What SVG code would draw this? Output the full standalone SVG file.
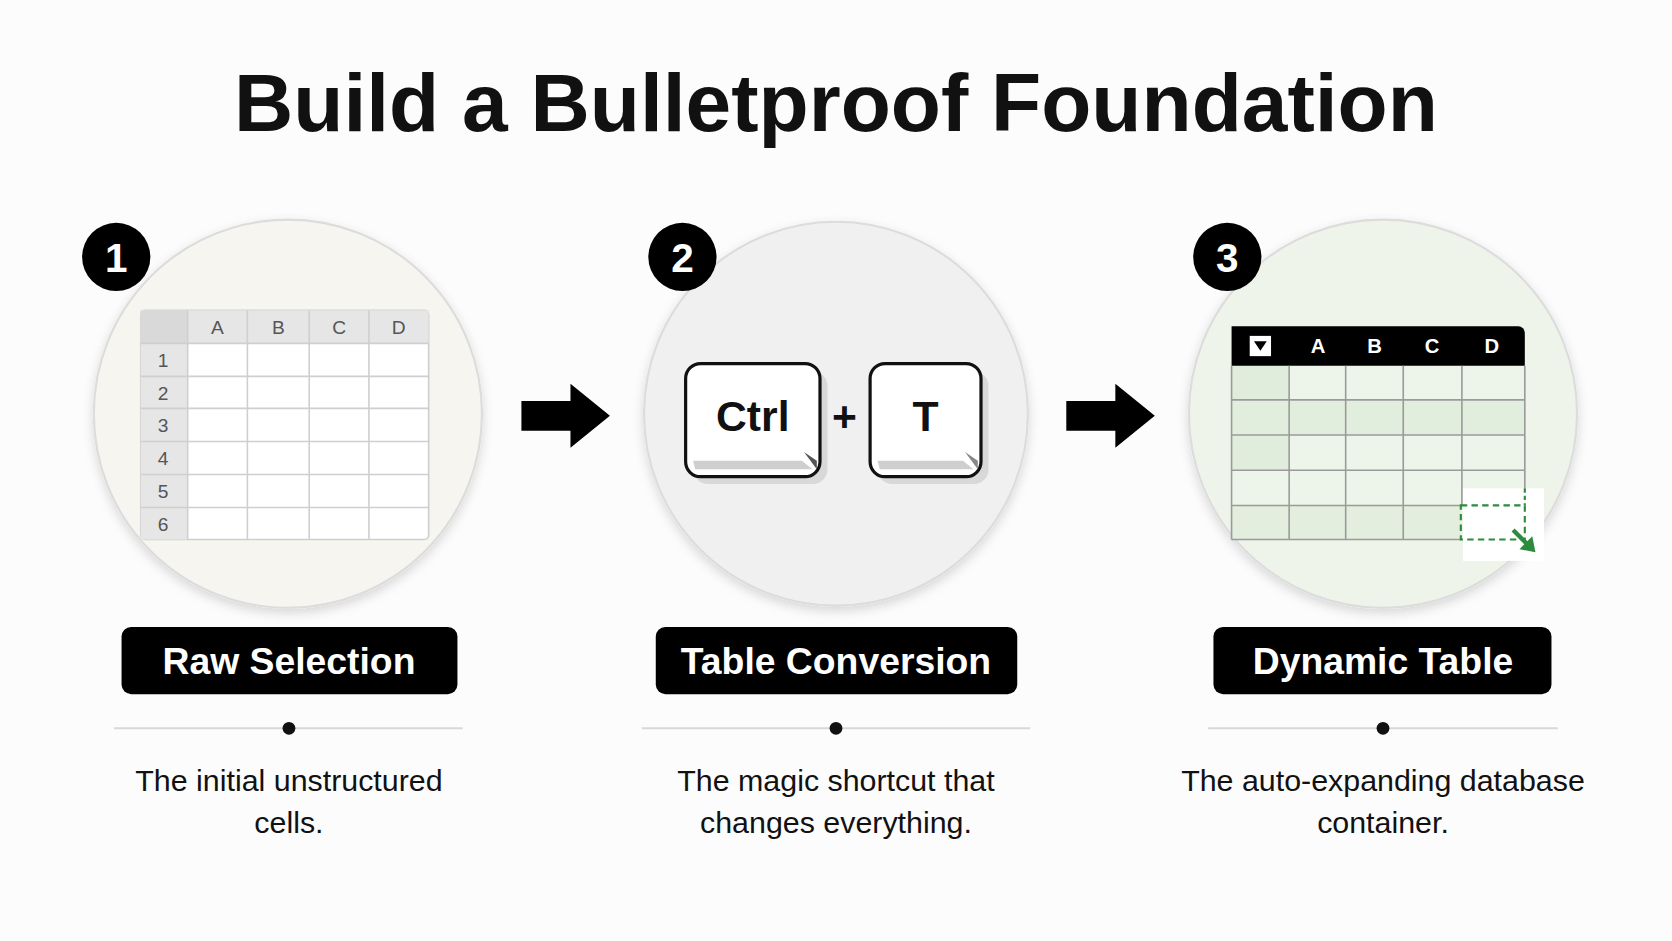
<svg xmlns="http://www.w3.org/2000/svg" width="1672" height="941" viewBox="0 0 1672 941">
<style>
.t{font-family:"Liberation Sans",Arial,sans-serif}
.lbl{font-family:"Liberation Sans",Arial,sans-serif;font-weight:bold;font-size:35px;fill:#fff;text-anchor:middle}
.desc{font-family:"Liberation Sans",Arial,sans-serif;font-size:28.5px;fill:#111;text-anchor:middle}
.hd{font-family:"Liberation Sans",Arial,sans-serif;font-size:18px;fill:#555;text-anchor:middle}
.hw{font-family:"Liberation Sans",Arial,sans-serif;font-size:19px;font-weight:bold;fill:#fff;text-anchor:middle}
.badge{fill:#000}
.bn{font-family:"Liberation Sans",Arial,sans-serif;font-weight:bold;font-size:38px;fill:#fff;text-anchor:middle}
.g{stroke:#cfcfcf;stroke-width:1.5;fill:none}
.g3{stroke:#9a9a9a;stroke-width:1.5;fill:none}
.sep{stroke:#d8d8d8;stroke-width:2}
</style>
<defs>
<filter id="sh" x="-20%" y="-20%" width="140%" height="140%"><feDropShadow dx="0" dy="4" stdDeviation="5" flood-color="#000" flood-opacity="0.15"/></filter>
</defs>
<rect width="1672" height="941" fill="#fcfcfc"/>
<g transform="scale(1.0663)">
<text x="784" y="123" class="t" font-size="77" font-weight="bold" text-anchor="middle" fill="#111">Build a Bulletproof Foundation</text>

<g id="node1">
<circle cx="270" cy="388" r="182" fill="#f7f5f0" stroke="#dcdcdc" stroke-width="2" filter="url(#sh)"/>
<rect x="132" y="291" width="270" height="215" rx="4" fill="#fff" stroke="#cfcfcf" stroke-width="1.5"/>
<rect x="132" y="291" width="270" height="31" fill="#e6e6e6"/>
<rect x="132" y="291" width="44" height="215" fill="#e6e6e6"/>
<rect x="132" y="291" width="44" height="31" fill="#d9d9d9"/>
<path class="g" d="M176 291V506M232 291V506M290 291V506M346 291V506M132 322H402M132 353H402M132 383H402M132 414H402M132 445H402M132 476H402"/>
<text x="204" y="313" class="hd">A</text><text x="261" y="313" class="hd">B</text><text x="318" y="313" class="hd">C</text><text x="374" y="313" class="hd">D</text>
<text x="153" y="344" class="hd" fill="#333">1</text><text x="153" y="375" class="hd">2</text><text x="153" y="405" class="hd">3</text><text x="153" y="436" class="hd">4</text><text x="153" y="467" class="hd">5</text><text x="153" y="498" class="hd">6</text>
<circle cx="109" cy="241" r="32" class="badge"/><text x="109" y="255" class="bn">1</text>
<rect x="114" y="588" width="315" height="63" rx="9" fill="#000"/>
<text x="271" y="632" class="lbl">Raw Selection</text>
<line x1="107" y1="683" x2="434" y2="683" class="sep"/><circle cx="271" cy="683" r="6" fill="#111"/>
<text x="271" y="742" class="desc">The initial unstructured</text><text x="271" y="781" class="desc">cells.</text>
</g>

<g id="node2">
<circle cx="784" cy="388" r="180" fill="#f0f0f0" stroke="#dcdcdc" stroke-width="2" filter="url(#sh)"/>
<rect x="650" y="348" width="126" height="106" rx="14" fill="#c8c8c8" opacity="0.6"/>
<rect x="643" y="341" width="126" height="106" rx="14" fill="#fff" stroke="#111" stroke-width="3"/>
<path d="M650 432H752L762 440H652Z" fill="#cfcfcf"/><path d="M754 424L766 432V440Z" fill="#555"/>
<text x="706" y="404" class="t" font-size="40" font-weight="bold" text-anchor="middle" fill="#111">Ctrl</text>
<text x="792" y="404" class="t" font-size="40" font-weight="bold" text-anchor="middle" fill="#111">+</text>
<rect x="823" y="348" width="104" height="106" rx="14" fill="#c8c8c8" opacity="0.6"/>
<rect x="816" y="341" width="104" height="106" rx="14" fill="#fff" stroke="#111" stroke-width="3"/>
<path d="M823 432H903L913 440H825Z" fill="#cfcfcf"/><path d="M905 424L917 432V440Z" fill="#888"/>
<text x="868" y="404" class="t" font-size="40" font-weight="bold" text-anchor="middle" fill="#111">T</text>
<circle cx="640" cy="241" r="32" class="badge"/><text x="640" y="255" class="bn">2</text>
<rect x="615" y="588" width="339" height="63" rx="9" fill="#000"/>
<text x="784" y="632" class="lbl">Table Conversion</text>
<line x1="602" y1="683" x2="966" y2="683" class="sep"/><circle cx="784" cy="683" r="6" fill="#111"/>
<text x="784" y="742" class="desc">The magic shortcut that</text><text x="784" y="781" class="desc">changes everything.</text>
</g>

<g id="node3">
<circle cx="1297" cy="388" r="182" fill="#eef4ea" stroke="#dcdcdc" stroke-width="2" filter="url(#sh)"/>
<rect x="1155" y="343" width="275" height="163" fill="#edf5ea"/>
<rect x="1155" y="343" width="54" height="32" fill="#e1eddc"/>
<rect x="1155" y="375" width="275" height="33" fill="#e2eedd"/>
<rect x="1155" y="408" width="54" height="33" fill="#e1eddc"/>
<rect x="1155" y="474" width="215" height="32" fill="#e3eede"/>
<path d="M1155 306H1424A6 6 0 0 1 1430 312V343H1155Z" fill="#000"/>
<rect x="1172" y="315" width="20" height="19" fill="#fff"/><path d="M1176 320H1188L1182 329Z" fill="#000"/>
<text x="1236" y="331" class="hw">A</text><text x="1289" y="331" class="hw">B</text><text x="1343" y="331" class="hw">C</text><text x="1399" y="331" class="hw">D</text>
<rect x="1372" y="458" width="76" height="68" fill="#fff"/>
<path class="g3" d="M1155 343V506M1209 343V506M1262 343V506M1316 343V506M1371 343V474M1430 343V458M1155 375H1430M1155 408H1430M1155 441H1430M1155 474H1370M1155 506H1370"/>
<rect x="1370" y="474" width="60" height="32" fill="none" stroke="#2e8b3e" stroke-width="2" stroke-dasharray="6 4"/>
<path d="M1430 458V474" stroke="#2e8b3e" stroke-width="2" stroke-dasharray="4 3"/>
<path d="M1419 497L1434 512" stroke="#2e8b3e" stroke-width="4"/><path d="M1440 518L1437 503L1425 515Z" fill="#2e8b3e"/>
<circle cx="1151" cy="241" r="32" class="badge"/><text x="1151" y="255" class="bn">3</text>
<rect x="1138" y="588" width="317" height="63" rx="9" fill="#000"/>
<text x="1297" y="632" class="lbl">Dynamic Table</text>
<line x1="1133" y1="683" x2="1461" y2="683" class="sep"/><circle cx="1297" cy="683" r="6" fill="#111"/>
<text x="1297" y="742" class="desc">The auto-expanding database</text><text x="1297" y="781" class="desc">container.</text>
</g>

<g id="connectors" fill="#000">
<path d="M489 376H535V360L572 390L535 420V404H489Z"/>
<path d="M1000 376H1046V360L1083 390L1046 420V404H1000Z"/>
</g>
</g>
</svg>
